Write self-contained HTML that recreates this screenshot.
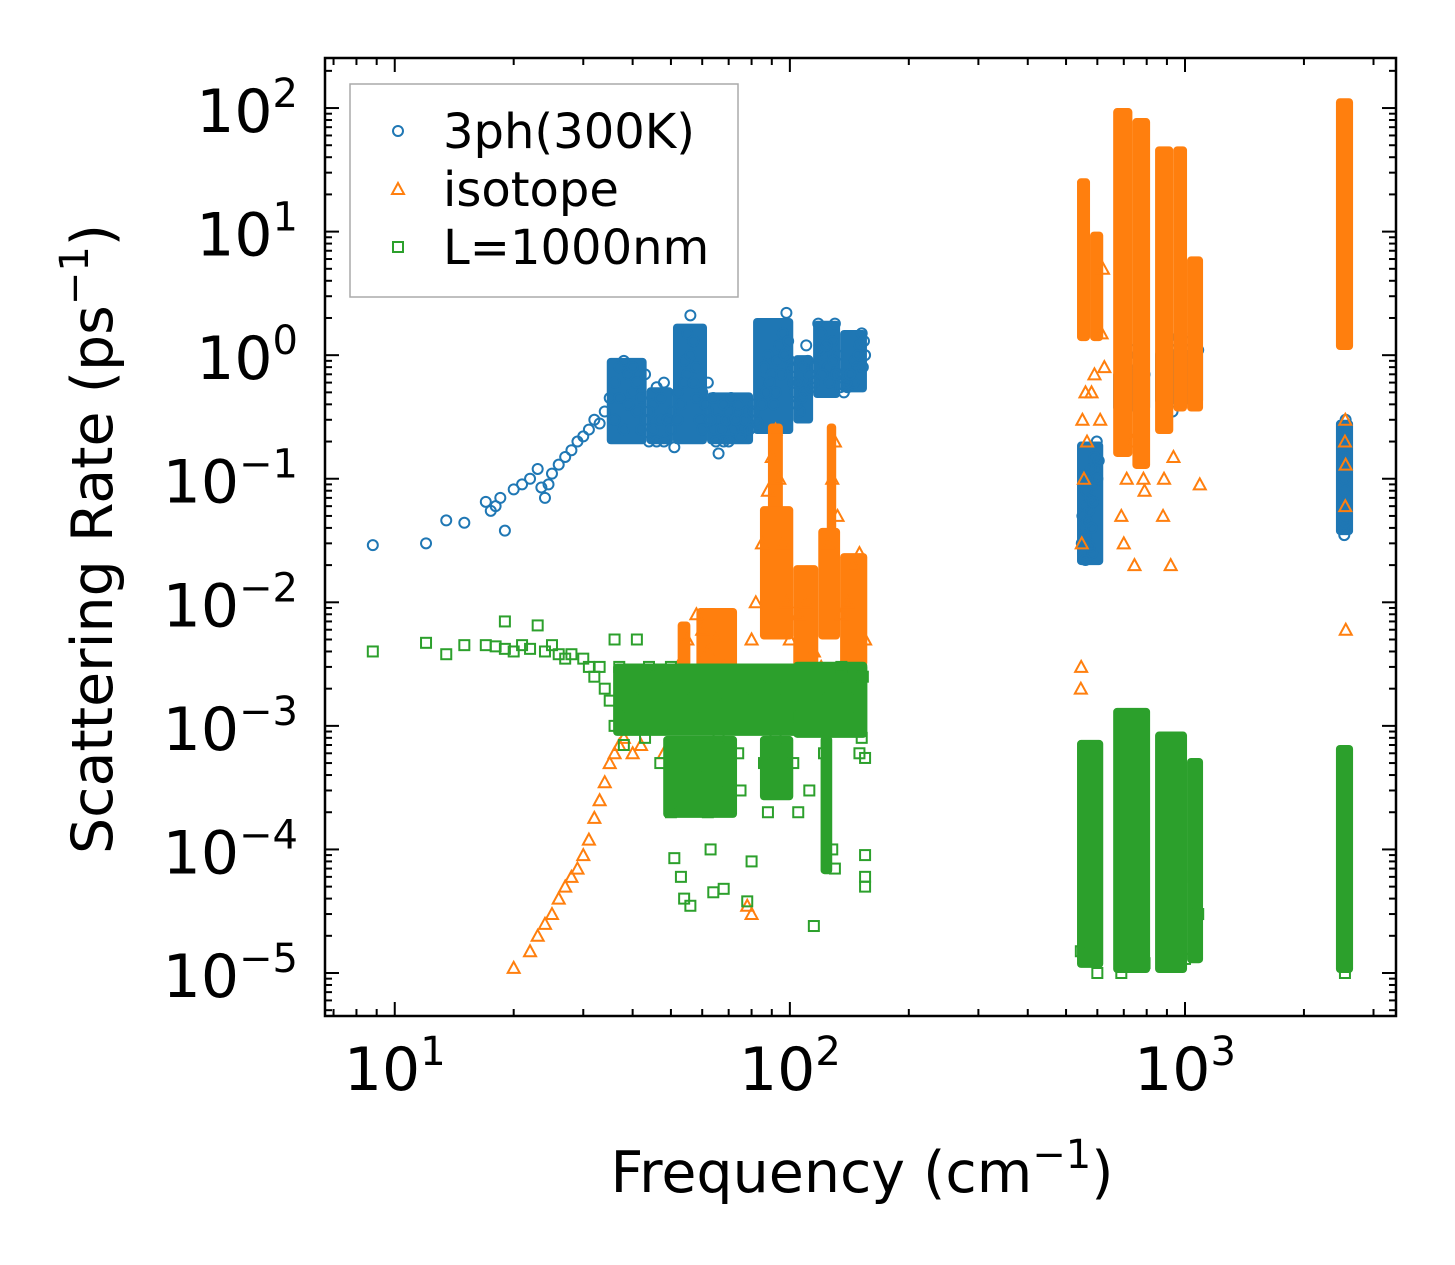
<!DOCTYPE html>
<html><head><meta charset="utf-8"><style>
html,body{margin:0;padding:0;background:#fff}
svg{display:block;font-family:"DejaVu Sans","Liberation Sans",sans-serif}
</style></head><body>
<svg id="chart" width="1455" height="1265" viewBox="0 0 1455 1265" xmlns="http://www.w3.org/2000/svg">
<rect x="0" y="0" width="1455" height="1265" fill="#fff"/>
<g id="marks"></g>
<g id="axes"></g>
<rect x="325" y="58" width="1071" height="958" fill="none" stroke="#000" stroke-width="2.5"/>
<g>
<rect x="350" y="84" width="388" height="213" fill="#fff" fill-opacity="0.8" stroke="#aaa" stroke-width="1.5"/>
<circle cx="398" cy="131" r="5" fill="none" stroke="#1f77b4" stroke-width="2"/>
<text x="443" y="148" font-size="48">3ph(300K)</text>
<polygon points="398,183 404,194 392,194" fill="none" stroke="#ff7f0e" stroke-width="2"/>
<text x="443" y="206" font-size="48">isotope</text>
<rect x="393" y="242" width="10" height="10" fill="none" stroke="#2ca02c" stroke-width="2"/>
<text x="443" y="264" font-size="48">L=1000nm</text>
</g>
<text x="862" y="1192" font-size="57" text-anchor="middle">Frequency (cm<tspan dy="-24" font-size="40">−1</tspan><tspan dy="24">)</tspan></text>
<text transform="translate(112,539) rotate(-90)" font-size="57" text-anchor="middle">Scattering Rate (ps<tspan dy="-24" font-size="40">−1</tspan><tspan dy="24">)</tspan></text>
</svg>
<script>
const xTicks=[1,2,3];
const yTicks=[2,1,0,-1,-2,-3,-4,-5];
// dense regions: [xLow, xHigh, yLow, yHigh]
const blueBands=[[34.4,43.4,0.19,0.95],[43.4,50.6,0.19,0.55],[50.6,61.7,0.19,1.8],[61.7,80.7,0.19,0.5],[80.7,102,0.23,2.0],[102,114.5,0.28,1.0],[114.5,134,0.45,1.9],[134,156.7,0.5,1.6],[533,621,0.02,0.2],[658,816,0.35,0.75],[840,1111,0.4,1.1],[2410,2663,0.035,0.3]];
const orangeBands=[[52,56,3e-3,7e-3],[58,73.5,2.5e-3,9e-3],[88,96,0.05,0.28],[84,102,5e-3,0.06],[102,118,3e-3,0.02],[124,131,0.03,0.28],[118,134,5e-3,0.04],[134,157,3e-3,0.025],[533,575,1.3,27],[575,621,1.3,10],[658,736,0.15,100],[736,816,0.12,83],[840,934,0.23,49],[934,1012,0.35,49],[1012,1111,0.35,6.3],[2410,2663,1.1,120]];
const greenBands=[[35.7,157,8.3e-4,3.2e-3],[47.8,73.5,1.8e-4,8.3e-4],[84,102,2.5e-4,8.3e-4],[119.6,128,6.3e-5,8.3e-4],[102,157,8e-4,3.3e-3],[533,621,1.1e-5,7.7e-4],[658,816,1e-5,1.4e-3],[840,1012,1e-5,9e-4],[1012,1111,1.2e-5,5.5e-4],[2410,2663,1e-5,7e-4]];
const blue=[[8.8,0.029],[12,0.03],[13.5,0.046],[15,0.044],[17,0.065],[17.5,0.055],[18,0.06],[18.5,0.07],[19,0.038],[20,0.082],[21,0.09],[22,0.1],[23,0.12],[23.5,0.085],[24,0.07],[24.5,0.09],[25,0.11],[26,0.13],[27,0.15],[28,0.17],[29,0.2],[30,0.22],[31,0.25],[32,0.3],[33,0.28],[34,0.35],[35,0.45],[36,0.6],[37,0.8],[38,0.9],[39,0.7],[40,0.5],[41,0.35],[42,0.25],[43,0.3],[44,0.2],[45,0.4],[46,0.55],[47,0.3],[48,0.2],[50,0.35],[52,0.5],[54,0.9],[55,1.5],[56,2.1],[57,1.3],[58,0.8],[60,0.5],[62,0.35],[64,0.25],[66,0.3],[68,0.2],[70,0.35],[72,0.3],[74,0.4],[76,0.25],[78,0.35],[80,0.4],[82,0.3],[84,0.6],[86,0.8],[88,1.0],[90,0.7],[92,0.5],[94,1.2],[96,1.5],[98,2.2],[100,0.9],[102,0.6],[104,0.4],[106,0.35],[108,0.8],[110,1.2],[112,0.7],[115,0.6],[118,1.8],[120,1.5],[122,1.0],[125,0.8],[128,1.3],[130,1.8],[132,1.0],[135,0.7],[140,0.55],[145,0.6],[148,0.8],[150,1.2],[152,1.5],[155,1.0],
[36,0.3],[37,0.45],[38,0.25],[39,0.4],[40,0.8],[41,0.6],[42,0.45],[43,0.7],[44,0.35],[45,0.25],[46,0.2],[47,0.45],[48,0.6],[49,0.3],[50,0.25],[51,0.18],[52,0.3],[53,0.4],[54,0.6],[55,0.7],[56,1.0],[57,0.6],[58,0.45],[59,0.3],[60,0.25],[61,0.4],[62,0.6],[63,0.3],[64,0.45],[65,0.2],[66,0.16],[67,0.25],[68,0.4],[69,0.3],[70,0.2],[71,0.45],[72,0.25],[73,0.3],[75,0.22],[77,0.3],[79,0.25],[81,0.35],[83,0.28],[85,0.4],[87,0.5],[89,0.6],[91,0.4],[93,0.9],[95,0.7],[97,1.0],[99,1.3],[101,0.8],[103,0.5],[105,0.6],[107,0.45],[109,0.5],[111,0.9],[113,0.55],[116,0.8],[119,1.1],[121,0.7],[124,1.2],[126,0.6],[129,0.9],[131,0.7],[134,0.55],[137,0.5],[139,0.6],[142,0.7],[146,0.9],[149,1.0],[153,0.8],[154,1.3],
[548,0.03],[550,0.05],[552,0.025],[555,0.04],[558,0.06],[560,0.035],[562,0.08],[565,0.045],[568,0.1],[570,0.03],[572,0.055],[575,0.07],[578,0.12],[580,0.04],[582,0.025],[585,0.065],[588,0.09],[590,0.15],[595,0.12],[598,0.2],[600,0.1],[605,0.14],[560,0.022],[575,0.028],
[700,0.45],[705,0.6],[710,0.8],[715,1.0],[720,0.5],[725,0.7],[730,0.9],[740,1.1],[750,0.6],[760,0.8],[770,0.5],[780,0.4],[790,0.7],[770,1.2],
[880,0.75],[890,0.9],[900,1.1],[910,0.8],[920,1.3],[930,0.7],[940,1.0],[950,0.9],[960,1.4],[900,0.4],[930,0.35],
[1000,0.9],[1010,1.1],[1020,0.85],[1030,1.3],[1040,1.0],[1050,1.5],[1060,0.95],[1070,1.2],[1080,1.1],
[2520,0.04],[2525,0.06],[2530,0.1],[2535,0.15],[2540,0.2],[2545,0.08],[2550,0.3],[2555,0.05],[2560,0.12],[2530,0.035],[2550,0.25],[2540,0.045]];
const orange=[[20,1.1e-5],[22,1.5e-5],[23,2e-5],[24,2.5e-5],[25,3e-5],[26,4e-5],[27,5e-5],[28,6e-5],[29,7e-5],[30,9e-5],[31,1.2e-4],[32,1.8e-4],[33,2.5e-4],[34,3.5e-4],[35,5e-4],[36,6e-4],[37,7e-4],[38,8e-4],[40,6e-4],[42,7e-4],[45,1e-3],[48,6e-4],[50,2e-3],[52,3e-3],[55,5e-3],[58,8e-3],[60,6e-3],[62,4e-3],[65,5e-3],[68,3e-3],[70,2e-3],[72,1.5e-3],[75,1e-3],[78,2e-3],[80,5e-3],[82,1e-2],[85,3e-2],[88,8e-2],[90,0.15],[92,0.25],[94,0.1],[96,0.03],[98,0.01],[100,5e-3],[105,8e-3],[110,1e-2],[115,4e-3],[120,3e-3],[125,3e-2],[128,0.1],[130,0.2],[132,0.05],[135,8e-3],[140,1e-2],[145,2e-2],[150,2.5e-2],[155,5e-3],[78,3.5e-5],[80,3e-5],
[545,2e-3],[546,3e-3],[548,0.03],[550,0.3],[555,0.1],[565,0.2],[560,0.5],[580,0.5],[590,0.7],
[610,0.3],[615,1.5],[620,5],[625,0.8],
[690,0.05],[700,0.03],[735,0.2],[712,0.1],[745,0.02],[785,0.1],[790,0.08],[880,0.05],[885,0.1],[920,0.02],[935,0.15],[1090,0.09],
[2552,6e-3],[2545,0.06],[2540,0.2],[2545,0.3],[2550,0.13]];
const green=[[8.8,4e-3],[12,4.7e-3],[13.5,3.8e-3],[15,4.5e-3],[17,4.5e-3],[18,4.4e-3],[19,4.2e-3],[20,4e-3],[21,4.5e-3],[22,4.2e-3],[23,6.5e-3],[24,4e-3],[25,4.5e-3],[19,7e-3],[26,3.8e-3],[27,3.5e-3],[28,3.8e-3],[30,3.5e-3],[31,3e-3],[32,2.5e-3],[33,3e-3],[34,2e-3],[35,1.6e-3],[36,1e-3],[36,5e-3],[37,3e-3],[38,7e-4],[39,1.2e-3],[40,2e-3],[41,5e-3],[42,1e-3],[43,8e-4],[44,3e-3],[45,1.5e-3],[46,2.5e-3],[47,5e-4],[48,1e-3],[50,2e-4],[50,3e-3],[51,8.5e-5],[52,1.5e-3],[53,6e-5],[54,4e-5],[55,1e-3],[56,3.5e-5],[57,2e-3],[58,7e-4],[60,1.2e-3],[61,4e-4],[62,2e-4],[63,1e-4],[64,4.5e-5],[65,1.5e-3],[66,8e-4],[67,2e-3],[68,4.8e-5],[69,3e-4],[70,1e-3],[72,2.5e-3],[74,6e-4],[75,3e-4],[76,2e-3],[78,3.8e-5],[80,8e-5],[82,1e-3],[84,2.5e-3],[86,5e-4],[88,2e-4],[90,1.5e-3],[92,8e-4],[95,2.5e-3],[98,2e-3],[100,1.2e-3],[102,5e-4],[105,2e-4],[108,2.5e-3],[110,1e-3],[112,3e-4],[115,2.4e-5],[118,1.5e-3],[120,2.8e-3],[122,6e-4],[125,2e-3],[128,1e-4],[130,7e-5],[132,2.5e-3],[135,3e-3],[140,2e-3],[145,2.5e-3],[148,1.2e-3],[150,6e-4],[152,8e-4],[155,9e-5],[155,6e-5],[155,5e-5],[155,5.5e-4],[153,2.5e-3],
[545,1.5e-5],[600,1e-5],[690,1e-5],[790,1.2e-5],[1000,1.3e-5],[1050,6e-5],[1080,3e-5],[2540,1e-5]];

const L=325,R=1396,T=58,B=1016;
const X0=Math.log10(6.66),X1=Math.log10(3420),Y0=-5.348,Y1=2.405;
function xs(v){return L+(Math.log10(v)-X0)/(X1-X0)*(R-L);}
function ys(v){return B-(Math.log10(v)-Y0)/(Y1-Y0)*(B-T);}
const NS="http://www.w3.org/2000/svg";
const marks=document.getElementById('marks');
const axes=document.getElementById('axes');
function mk(tag,attrs,parent){const e=document.createElementNS(NS,tag);for(const k in attrs)e.setAttribute(k,attrs[k]);parent.appendChild(e);return e;}
function drawBands(arr,color,name){
 arr.forEach(b=>{
  const x0=xs(b[0]),x1=xs(b[1]),y0=ys(b[3]),y1=ys(b[2]);
  const r=mk('rect',{x:x0,y:y0,width:x1-x0,height:y1-y0,fill:color,rx:4},marks);
  
  
 });
}

drawBands(blueBands,'#1f77b4','dense-band-3ph');
blue.forEach(p=>{
 const c=mk('circle',{cx:xs(p[0]),cy:ys(p[1]),r:5,fill:'none',stroke:'#1f77b4','stroke-width':2},marks);
 
 
});
drawBands(orangeBands,'#ff7f0e','dense-band-isotope');
orange.forEach(p=>{
 const x=xs(p[0]),y=ys(p[1]);
 const t=mk('polygon',{points:`${x},${y-6} ${x+6},${y+5} ${x-6},${y+5}`,fill:'none',stroke:'#ff7f0e','stroke-width':2},marks);
 
 
});
drawBands(greenBands,'#2ca02c','dense-band-boundary');
green.forEach(p=>{
 const x=xs(p[0]),y=ys(p[1]);
 const s=mk('rect',{x:x-5,y:y-5,width:10,height:10,fill:'none',stroke:'#2ca02c','stroke-width':2},marks);
 
 
});

for(let d=0;d<=3;d++){for(let m=1;m<=9;m++){const v=m*Math.pow(10,d);const x=xs(v);if(x<L||x>R)continue;const len=m===1?14:7;
 const t1=mk('line',{x1:x,x2:x,y1:B,y2:B-len,stroke:'#000','stroke-width':2},axes);
 
 const t2=mk('line',{x1:x,x2:x,y1:T,y2:T+len,stroke:'#000','stroke-width':2},axes);
 }}
for(let d=-6;d<=2;d++){for(let m=1;m<=9;m++){const v=m*Math.pow(10,d);const y=ys(v);if(y<T||y>B)continue;const len=m===1?14:7;
 const t1=mk('line',{x1:L,x2:L+len,y1:y,y2:y,stroke:'#000','stroke-width':2},axes);
 
 const t2=mk('line',{x1:R,x2:R-len,y1:y,y2:y,stroke:'#000','stroke-width':2},axes);
 }}
xTicks.forEach(e=>{
 const t=mk('text',{x:xs(Math.pow(10,e)),y:1090,'font-size':60,'text-anchor':'middle'},axes);
 
 t.innerHTML='10<tspan dy="-25" font-size="40">'+e+'</tspan>';
});
yTicks.forEach(e=>{
 const t=mk('text',{x:298,y:ys(Math.pow(10,e))+24,'font-size':60,'text-anchor':'end'},axes);
 
 t.innerHTML='10<tspan dy="-25" font-size="40">'+(e<0?'−'+(-e):e)+'</tspan>';
});
</script>
</body></html>
